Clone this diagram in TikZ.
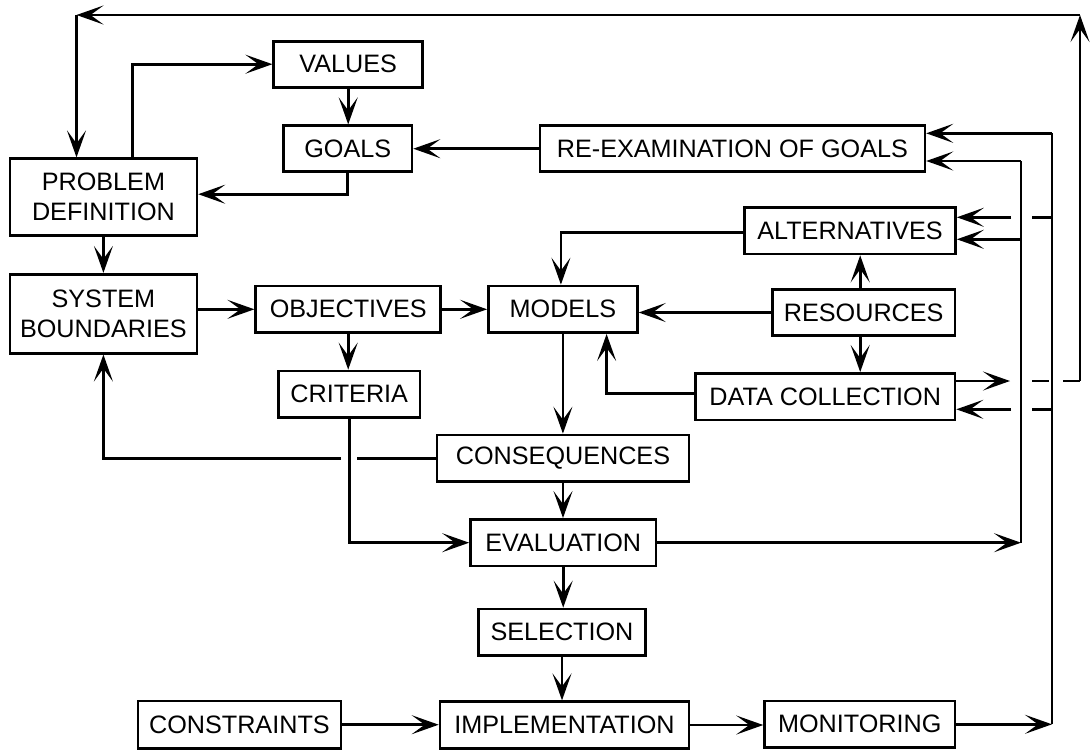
\documentclass[tikz,border=0pt]{standalone}
\usepackage{fontspec}
\setmainfont{Liberation Sans}
\usetikzlibrary{arrows.meta}
\tikzset{
  box/.style 2 args={draw, line width=1.3pt, inner sep=0pt, align=center,
    minimum width=#1*0.5pt, minimum height=#2*0.5pt,
    font=\fontsize{12.6}{15}\selectfont},
  link/.style={line width=1.3pt},
  arr/.style={link, -{Stealth[length=13.5pt,width=9.5pt,inset=6.5pt,line width=1.3pt]}},
}
\begin{document}
\begin{tikzpicture}[x=0.5pt,y=-0.5pt]
\useasboundingbox (0,0) rectangle (1090,750);
% boxes
\node[box={149}{46}]   (values) at (348.2,64.2)  {VALUES};
\node[box={128.6}{46}] (goals)  at (347.7,148.7) {GOALS};
\node[box={385}{46}]   (reexam) at (732.4,148.7) {RE-EXAMINATION OF GOALS};
\node[box={187}{77}]   (pd)     at (103.4,197.2) {PROBLEM\\DEFINITION};
\node[box={187}{79}]   (sb)     at (103.4,313.7) {SYSTEM\\BOUNDARIES};
\node[box={185}{46.7}] (obj)    at (348.2,309.3) {OBJECTIVES};
\node[box={149}{46.7}] (models) at (562.9,309.3) {MODELS};
\node[box={211}{46.7}] (alt)    at (850,230.7)   {ALTERNATIVES};
\node[box={182.5}{46.4}] (res)  at (863.7,312.5) {RESOURCES};
\node[box={259.6}{46.7}] (dc)   at (825.2,396.7) {DATA COLLECTION};
\node[box={141.5}{46.5}] (crit) at (349.2,394.2) {CRITERIA};
\node[box={252}{46.7}] (cons)   at (563,458.3)   {CONSEQUENCES};
\node[box={185.5}{46.7}] (eval) at (563.2,542.7) {EVALUATION};
\node[box={167.4}{46.7}] (sel)  at (562,632.3)   {SELECTION};
\node[box={203}{47.3}] (constr) at (239.4,724.7) {CONSTRAINTS};
\node[box={249}{46.6}] (impl)   at (564.5,725)   {IMPLEMENTATION};
\node[box={190.5}{46.3}] (mon)  at (859.8,724.3) {MONITORING};
% bus coordinates
\coordinate (busAtop) at (1021,161);
\coordinate (busAbot) at (1021,542.7);
\coordinate (busBtop) at (1052,133.3);
\coordinate (busBbot) at (1052,724.3);
\coordinate (aAlt) at (1021,239.3);
\coordinate (bAlt) at (1052,217.3);
\coordinate (bDC) at (1052,409.3);
\coordinate (rOut) at (1080,381);
\coordinate (tr) at (1080,15);
\coordinate (tl) at (76.5,15);
% main connectors
\draw[arr] (reexam) -- (goals);
\draw[arr] (values.south) -- (values.south |- goals.north);
\draw[arr] (goals.south) |- ([yshift=1.5pt]pd.east);
\draw[arr] ([xshift=14.6pt]pd.north) |- (values.west);
\draw[arr] (pd.south) -- (sb.north);
\draw[arr] (sb.east |- obj) -- (obj.west);
\draw[arr] (obj) -- (models);
\draw[arr] (obj.south) -- (obj.south |- crit.north);
\draw[arr] (res.west) -- (res.west -| models.east);
\draw[arr] ([xshift=-1.75pt]res.north) -- ([xshift=-1.75pt]res.north |- alt.south);
\draw[arr] ([xshift=-1.75pt]res.south) -- ([xshift=-1.75pt]res.south |- dc.north);
\draw[arr] ([yshift=-1pt]alt.west) -| ([xshift=-1pt]models.north);
\draw[arr] ([yshift=1.7pt]dc.west) -| ([xshift=21.85pt]models.south);
\draw[arr] (models.south) -- (models.south |- cons.north);
\draw[arr] (crit.south) |- (eval.west);
\draw[link] (cons.west) -- ([xshift=4pt]crit.south |- cons.west);
\draw[arr] ([xshift=-4pt]crit.south |- cons.west) -| (sb.south);
\draw[arr] (cons.south) -- (cons.south |- eval.north);
\draw[arr] (eval.south) -- (eval.south |- sel.north);
\draw[arr] (sel.south) -- (sel.south |- impl.north);
\draw[arr] (constr.east) -- (constr.east -| impl.west);
\draw[arr] (impl.east) -- (impl.east -| mon.west);
% feedback buses
\draw[arr] (eval.east) -- (busAbot);
\draw[link] (busAtop) -- (busAbot);
\draw[arr] (busAtop) -- (busAtop -| reexam.east);
\draw[arr] (aAlt) -- (aAlt -| alt.east);
\draw[arr] (mon.east) -- (busBbot);
\draw[link] (busBtop) -- (busBbot);
\draw[arr] (busBtop) -- (busBtop -| reexam.east);
\draw[link] (bAlt) -- ([xshift=5.5pt]busAtop |- bAlt);
\draw[arr] ([xshift=-5pt]busAtop |- bAlt) -- (bAlt -| alt.east);
\draw[link] (bDC) -- ([xshift=5.5pt]busAtop |- bDC);
\draw[arr] ([xshift=-5pt]busAtop |- bDC) -- (bDC -| dc.east);
% data collection loop back to problem definition
\draw[arr] (dc.east |- rOut) -- ([xshift=-5.5pt]busAtop |- rOut);
\draw[link] ([xshift=5.5pt]busAtop |- rOut) -- ([xshift=-1.5pt]busBtop |- rOut);
\draw[link] ([xshift=5.5pt]busBtop |- rOut) -- (rOut);
\draw[arr] (rOut) -- (tr);
\draw[arr] (tr) -- (tl);
\draw[arr] (tl) -- (tl |- pd.north);
\end{tikzpicture}
\end{document}
